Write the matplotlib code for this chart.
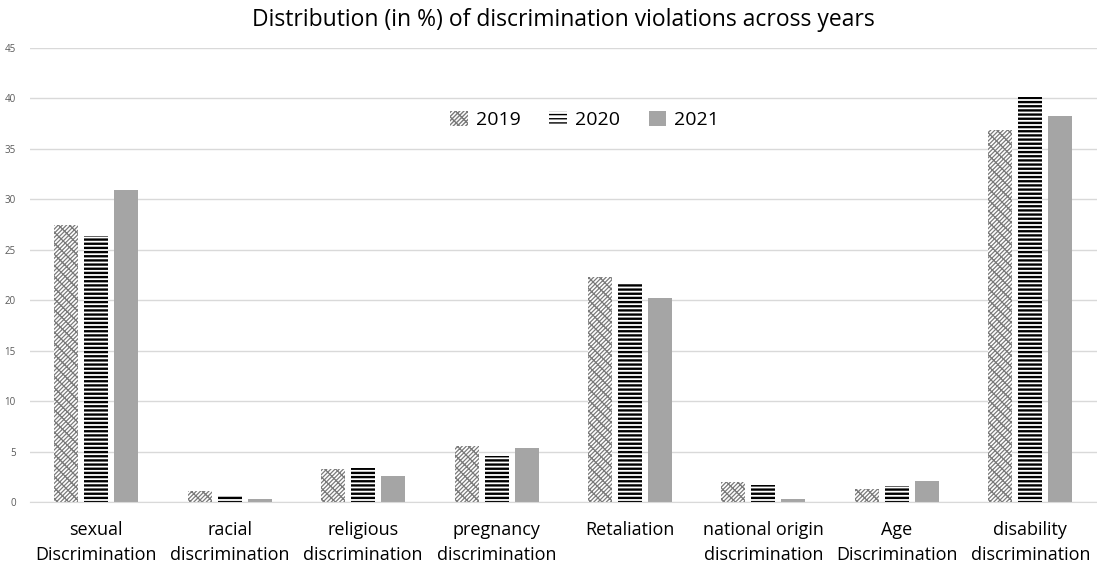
import numpy as np
import matplotlib.pyplot as plt

categories = ["sexual\nDiscrimination", "racial\ndiscrimination", "religious\ndiscrimination",
              "pregnancy\ndiscrimination", "Retaliation", "national origin\ndiscrimination",
              "Age\nDiscrimination", "disability\ndiscrimination"]
years = ["2019", "2020", "2021"]
v2019 = [27.45, 1.1, 3.3, 5.55, 22.3, 2.0, 1.3, 36.9]
v2020 = [26.4, 0.7, 3.4, 4.55, 21.6, 1.7, 1.6, 40.1]
v2021 = [30.9, 0.3, 2.6, 5.35, 20.2, 0.3, 2.1, 38.3]

plt.rcParams['font.family'] = ['Open Sans', 'DejaVu Sans']

fig = plt.figure(figsize=(10.97, 5.67), dpi=100)
ax = fig.add_axes([0.027, 0.1146, 0.973, 0.8007])

x = np.arange(len(categories))
w = 0.18
step = 0.225
with plt.rc_context({'hatch.linewidth': 0.9}):
    ax.bar(x - step, v2019, w, color='white', edgecolor='#7a7a7a',
           hatch='/' * 8 + '\\' * 3, linewidth=0, label=years[0])
with plt.rc_context({'hatch.linewidth': 1.7}):
    ax.bar(x, v2020, w, color='white', edgecolor='black', hatch='----',
           linewidth=0, label=years[1])
ax.bar(x + step, v2021, w, color='#a5a5a5', edgecolor='#a5a5a5', linewidth=0,
       label=years[2])

ax.set_xlim(-0.5, len(categories) - 0.5)
ax.set_ylim(0, 45)
ax.set_yticks(np.arange(0, 46, 5))
ax.yaxis.grid(True, color='#d9d9d9', linewidth=1)
ax.set_axisbelow(True)
for s in ['top', 'right', 'left']:
    ax.spines[s].set_visible(False)
ax.spines['bottom'].set_color('#d9d9d9')
ax.tick_params(axis='y', length=0, labelsize=7, colors='#595959', pad=10)
ax.tick_params(axis='x', length=0, labelsize=13, pad=14)
ax.set_xticks(x)
ax.set_xticklabels(categories, linespacing=1.5)

ax.set_title("Distribution (in %) of discrimination violations across years",
             fontsize=16.5, pad=16, x=0.5)
ax.legend(loc='upper center', bbox_to_anchor=(0.52, 0.9), ncol=3, frameon=False,
          fontsize=14, handlelength=0.9, handleheight=0.8, columnspacing=1.5,
          handletextpad=0.4)

fig.savefig("out.png", dpi=100)
